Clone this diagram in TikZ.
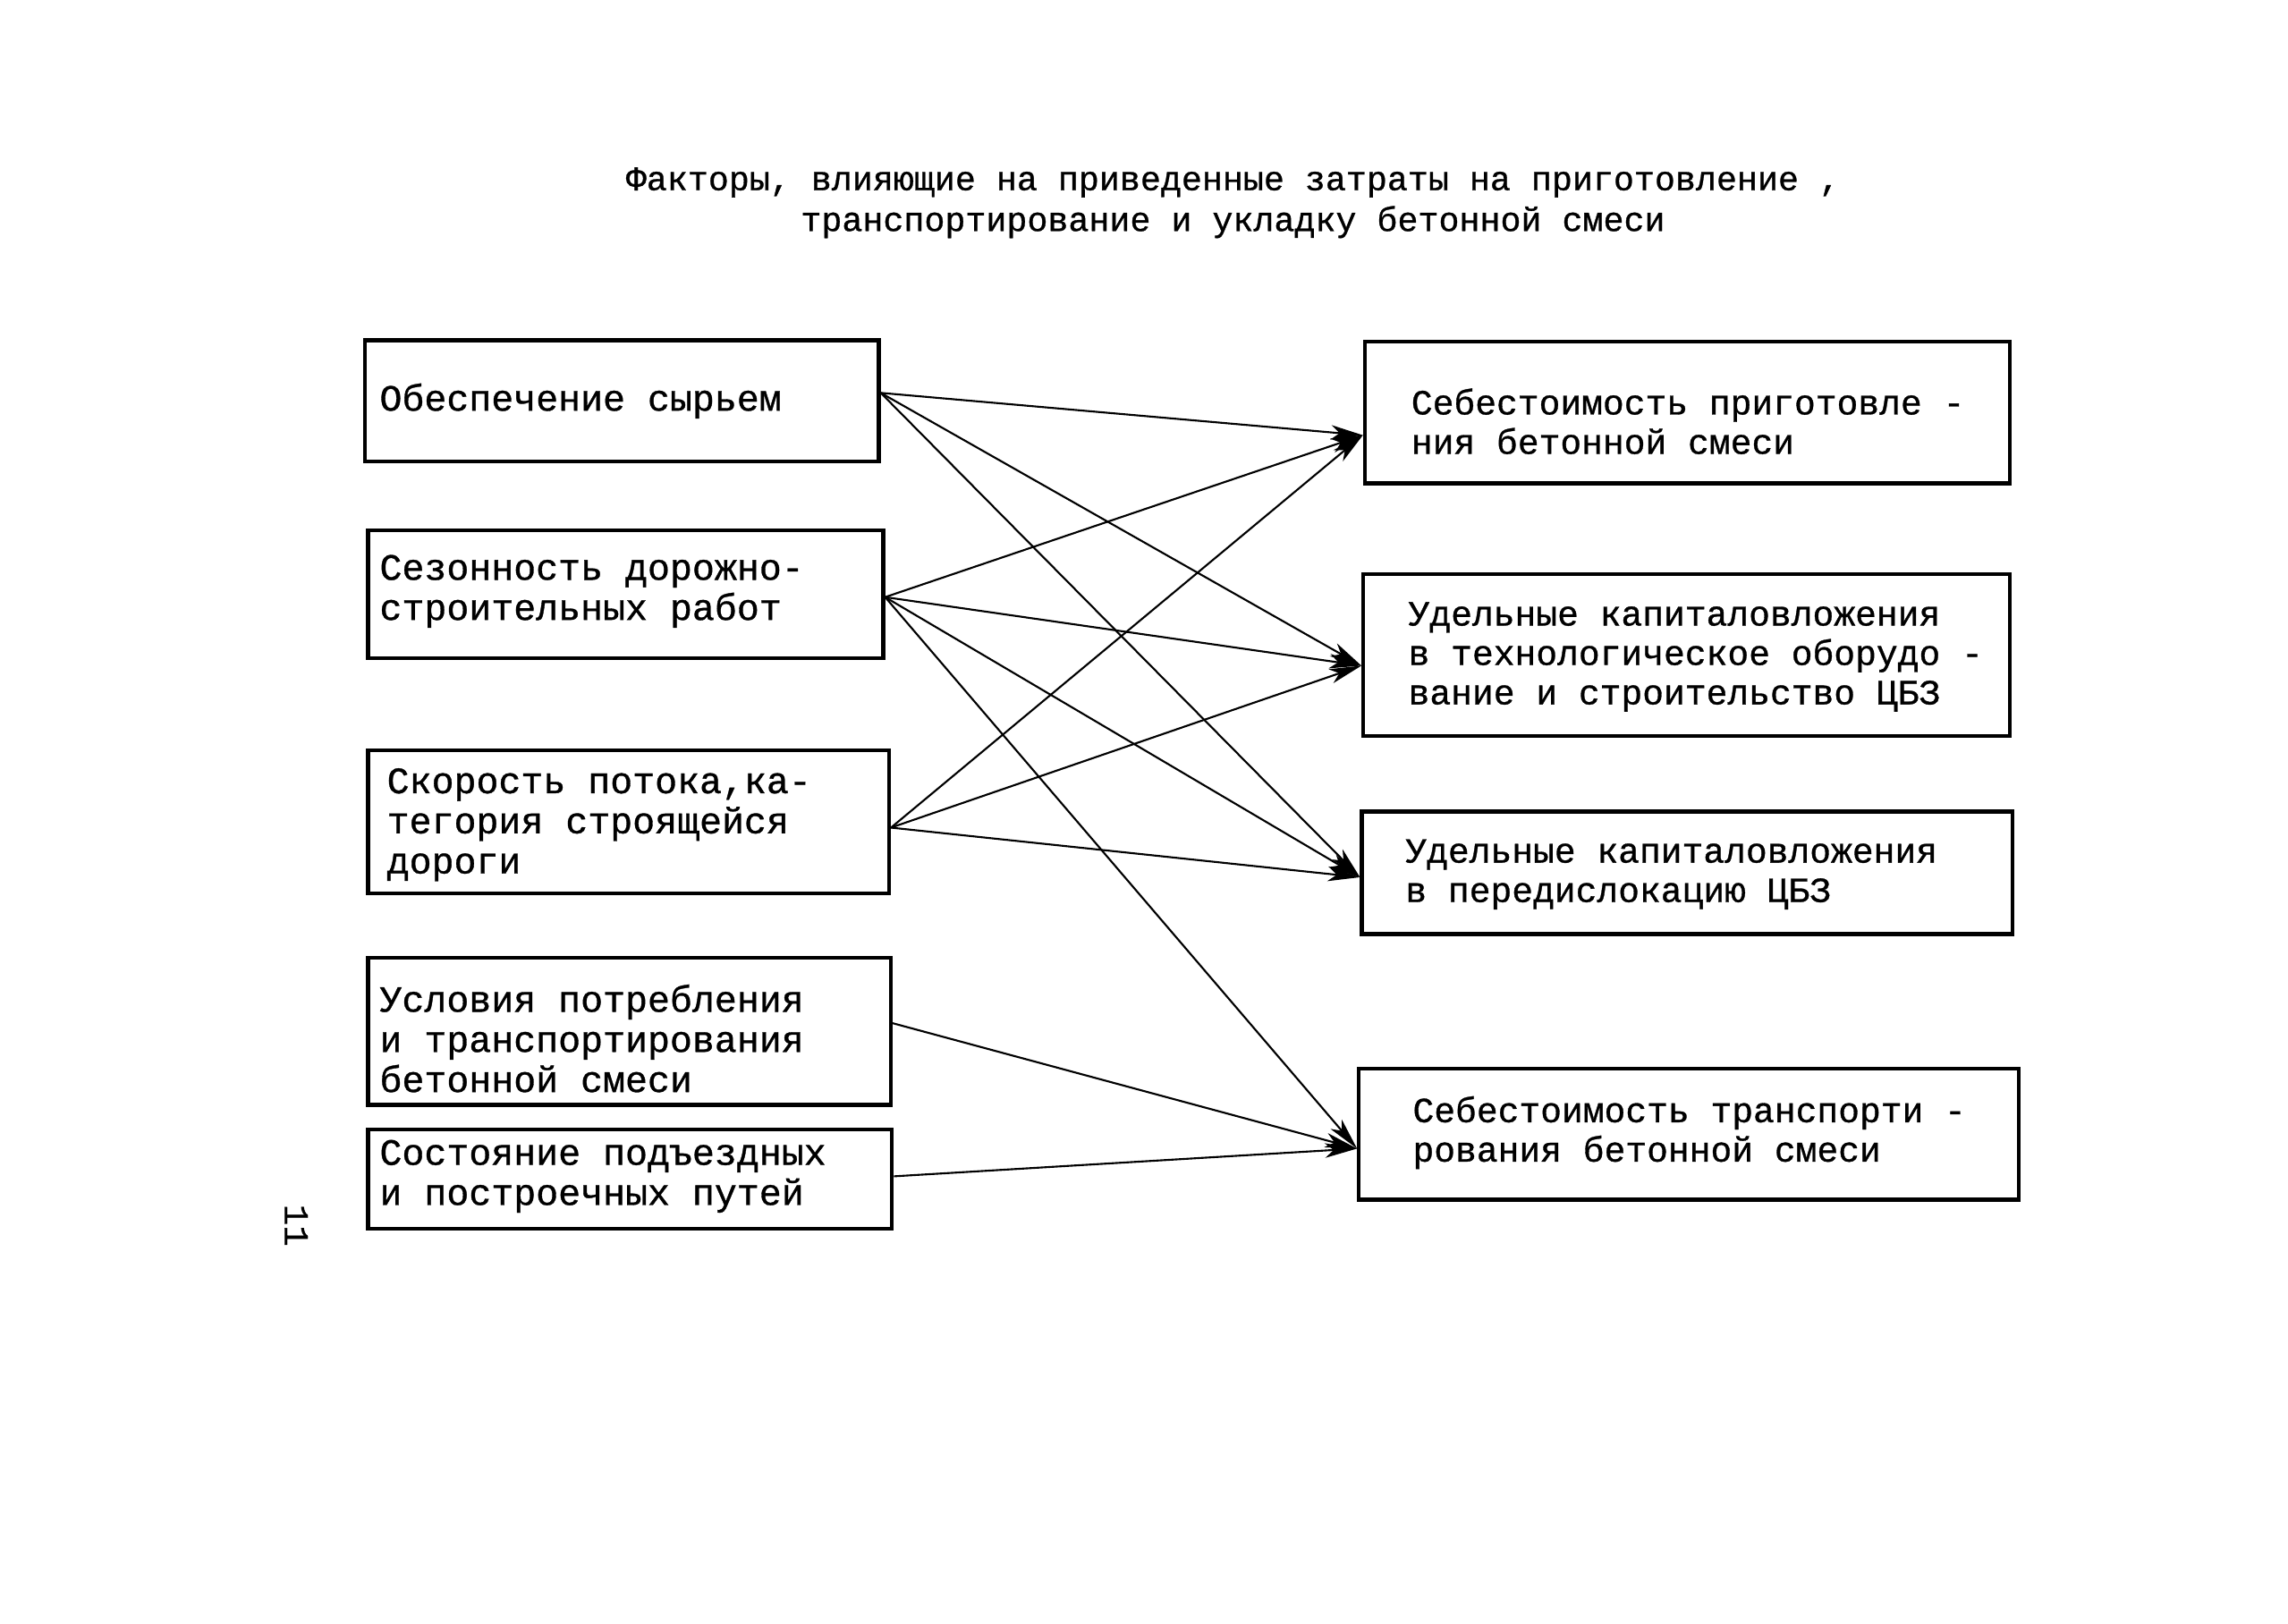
\documentclass[tikz,border=0pt]{standalone}
\usepackage{fontspec}
\newfontfamily\tw[FakeBold=0.8]{Liberation Mono}
\usetikzlibrary{arrows.meta}
\begin{document}
\begin{tikzpicture}[x=1pt,y=-1pt,
  box/.style={draw, line width=2.6pt, anchor=north west, inner sep=0pt},
  ltext/.style={anchor=west, align=left, inner sep=0pt, font=\tw\fontsize{25.5}{27.5}\selectfont},
  rtext/.style={anchor=west, align=left, inner sep=0pt, font=\tw\fontsize{24.3}{27}\selectfont},
  arr/.style={line width=1.3pt, -{Stealth[length=22pt,width=10pt,inset=6pt]}},
]
\useasboundingbox (0,0) rectangle (1568,1113);
\fill[white] (0,0) rectangle (1568,1113);

% title
\node[align=center, inner sep=0pt, font=\tw\fontsize{23.5}{28}\selectfont] (title) at (845,139)
  {Факторы, влияющие на приведенные затраты на приготовление ,\\транспортирование и укладку бетонной смеси};

% left boxes
\node[box, minimum width=352pt, minimum height=83pt] (L1) at (249,232) {};
\node[box, minimum width=353pt, minimum height=88pt] (L2) at (251,362) {};
\node[box, minimum width=357pt, minimum height=98pt] (L3) at (251,513) {};
\node[box, minimum width=358pt, minimum height=101pt] (L4) at (251,655) {};
\node[box, minimum width=359pt, minimum height=68pt] (L5) at (251,773) {};

% right boxes
\node[box, minimum width=442pt, minimum height=97pt] (R1) at (934,233) {};
\node[box, minimum width=443pt, minimum height=111pt] (R2) at (933,392) {};
\node[box, minimum width=446pt, minimum height=84pt] (R3) at (932,555) {};
\node[box, minimum width=452pt, minimum height=90pt] (R4) at (930,731) {};

% texts
\node[ltext] (L1t) at ([xshift=11pt]L1.west) {Обеспечение сырьем};
\node[ltext] (L2t) at ([xshift=9pt,yshift=2pt]L2.west) {Сезонность дорожно-\\строительных работ};
\node[ltext] (L3t) at ([xshift=14pt,yshift=-2pt]L3.west) {Скорость потока,ка-\\тегория строящейся\\дороги};
\node[ltext] (L4t) at ([xshift=9pt,yshift=-5pt]L4.west) {Условия потребления\\и транспортирования\\бетонной смеси};
\node[ltext] (L5t) at ([xshift=9pt,yshift=2pt]L5.west) {Состояние подъездных\\и построечных путей};

\node[rtext] (R1t) at ([xshift=33pt,yshift=-6pt]R1.west) {Себестоимость приготовле -\\ния бетонной смеси};
\node[rtext] (R2t) at ([xshift=32pt,yshift=-1.5pt]R2.west) {Удельные капиталовложения\\в технологическое оборудо -\\вание и строительство ЦБЗ};
\node[rtext] (R3t) at ([xshift=31pt,yshift=-1pt]R3.west) {Удельные капиталовложения\\в передислокацию ЦБЗ};
\node[rtext] (R4t) at ([xshift=38pt,yshift=1pt]R4.west) {Себестоимость транспорти -\\рования бетонной смеси};

% page number
\node[rotate=-90, inner sep=0pt, font=\tw\fontsize{24}{28}\selectfont] (pnum) at (203,840) {11};

% connector end points
\coordinate (s1) at ([yshift=5.5pt]L1.east);
\coordinate (s2) at ([yshift=-2pt]L2.east);
\coordinate (s3) at ([yshift=-4pt]L3.east);
\coordinate (s4) at ([yshift=5.5pt]L4.east);
\coordinate (s5) at ([yshift=2pt]L5.east);
\coordinate (t1) at ([yshift=-15.5pt]R1.west);
\coordinate (t2) at ([yshift=-7.5pt]R2.west);
\coordinate (t3) at ([yshift=-3pt]R3.west);
\coordinate (t4) at ([yshift=-10pt]R4.west);

\draw[arr] (s1) -- (t1);
\draw[arr] (s1) -- (t2);
\draw[arr] (s1) -- (t3);
\draw[arr] (s2) -- (t1);
\draw[arr] (s2) -- (t2);
\draw[arr] (s2) -- (t3);
\draw[arr] (s2) -- (t4);
\draw[arr] (s3) -- (t1);
\draw[arr] (s3) -- (t2);
\draw[arr] (s3) -- (t3);
\draw[arr] (s4) -- (t4);
\draw[arr] (s5) -- (t4);
\end{tikzpicture}
\end{document}
